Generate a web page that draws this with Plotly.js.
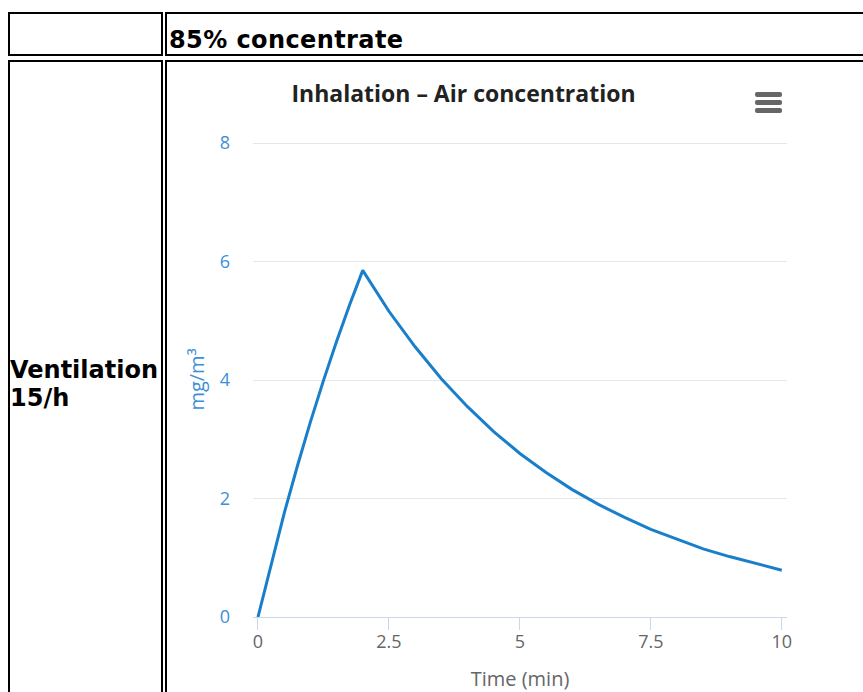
<!DOCTYPE html>
<html>
<head>
<meta charset="utf-8">
<script src="https://cdn.plot.ly/plotly-3.0.1.min.js"></script>
<style>
  html, body { margin: 0; padding: 0; width: 863px; height: 692px; overflow: hidden; background: #fff; }
  .cell { position: absolute; border: 2px solid #000; box-sizing: border-box; }
  .txt { position: absolute; font-family: "DejaVu Sans", Verdana, sans-serif; font-weight: bold; font-size: 24px; line-height: 28px; color: #000; white-space: nowrap; }
  #chart { position: absolute; left: 0; top: 0; width: 863px; height: 692px; }
  .bar { position: absolute; left: 755px; width: 27px; height: 5px; background: #666; border-radius: 2px; }
</style>
</head>
<body>
<div class="cell" style="left:8px;top:12px;width:155px;height:44px;"></div>
<div class="cell" style="left:165px;top:12px;width:760px;height:44px;"></div>
<div class="cell" style="left:8px;top:60px;width:155px;height:700px;"></div>
<div class="cell" style="left:165px;top:60px;width:760px;height:700px;"></div>
<div class="txt" id="colHead" style="left:169px;top:26px;letter-spacing:0.4px;"></div>
<div class="txt" id="rowHead" style="left:10px;top:356px;"></div>
<div id="chart"></div>
<div class="bar" style="top:92px;"></div>
<div class="bar" style="top:100px;"></div>
<div class="bar" style="top:108px;"></div>
<script>
// ---- data ----
const columnHeader = "85% concentrate";
const rowHeader = ["Ventilation", "15/h"];
const chartTitle = "Inhalation – Air concentration";
const xTitle = "Time (min)";
const yTitle = "mg/m³";
const timeMin = [0, 0.25, 0.5, 0.75, 1, 1.25, 1.5, 1.75, 2,
                 2.5, 3, 3.5, 4, 4.5, 5, 5.5, 6, 6.5, 7, 7.5, 8, 8.5, 9, 9.5, 10];
const airConc = [0, 0.90, 1.75, 2.54, 3.29, 3.99, 4.65, 5.27, 5.85,
                 5.16, 4.56, 4.02, 3.55, 3.13, 2.76, 2.44, 2.15, 1.90, 1.68, 1.48, 1.31, 1.15, 1.02, 0.90, 0.79];
const xTicks = [0, 2.5, 5, 7.5, 10];
const xTickText = ["0", "2.5", "5", "7.5", "10"];
const yTicks = [0, 2, 4, 6, 8];

document.getElementById("colHead").textContent = columnHeader;
document.getElementById("rowHead").innerHTML = rowHeader.join("<br>");

const blue = "#1a7fcb";
const labelBlue = "#3d8fd6";
const font = "Open Sans, Noto Sans, sans-serif";

Plotly.newPlot("chart", [{
  x: timeMin, y: airConc, type: "scatter", mode: "lines",
  line: { color: blue, width: 3 }, hoverinfo: "skip"
}], {
  width: 863, height: 692,
  margin: { l: 253, r: 76, t: 142, b: 75 },
  paper_bgcolor: "rgba(0,0,0,0)", plot_bgcolor: "rgba(0,0,0,0)",
  showlegend: false,
  title: {
    text: chartTitle, xref: "container", yref: "container",
    x: 463.5 / 863, xanchor: "center", y: 1 - 94 / 692, yanchor: "middle",
    font: { family: font, size: 23, color: "#222222", weight: "bold" }
  },
  xaxis: {
    range: [-0.095, 10.1], tickmode: "array", tickvals: xTicks, ticktext: xTickText,
    showgrid: false, zeroline: false, showline: true, linecolor: "#ccd6eb", linewidth: 1,
    ticks: "outside", ticklen: 12, tickcolor: "#ccd6eb", tickwidth: 1, ticklabelstandoff: -4,
    tickfont: { family: font, size: 18, color: "#666666" },
    title: { text: xTitle, standoff: 20, font: { family: font, size: 20, color: "#666666" } }
  },
  yaxis: {
    range: [0, 8.017], tickmode: "array", tickvals: yTicks,
    showgrid: true, gridcolor: "#e6e6e6", gridwidth: 1, zeroline: false, showline: false,
    ticks: "", ticklabelstandoff: 22,
    tickfont: { family: font, size: 18, color: labelBlue },
    title: { text: yTitle, standoff: 9, font: { family: font, size: 20, color: labelBlue } }
  }
}, { displayModeBar: false, staticPlot: true });
</script>
</body>
</html>
